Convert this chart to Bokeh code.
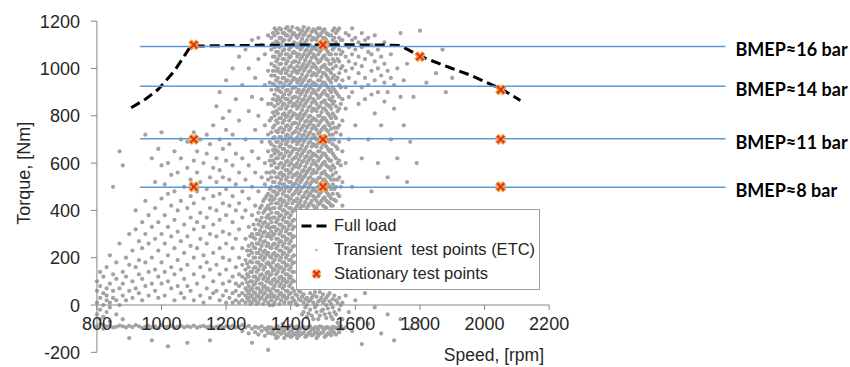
import math
from bokeh.plotting import figure
from bokeh.models import Range1d, Legend, LegendItem
from bokeh.core.properties import value
from bokeh.embed import file_html
from bokeh.resources import INLINE

# ---------------- data ----------------
speed_ticks = [800, 1000, 1200, 1400, 1600, 1800, 2000, 2200]
torque_ticks = [-200, 0, 200, 400, 600, 800, 1000, 1200]

fullload_speed = [906, 950, 990, 1040, 1085, 1110, 1200, 1300, 1400, 1500, 1600, 1700, 1740, 1800, 1900, 1960, 2000, 2050, 2111]
fullload_torque = [834, 870, 912, 990, 1083, 1095, 1097, 1098, 1099, 1100, 1100, 1099, 1097, 1052, 1000, 970, 945, 915, 865]

stationary_speed = [1100, 1500, 1800, 2050, 1100, 1500, 2050, 1100, 1500, 2050]
stationary_torque = [1100, 1100, 1050, 910, 700, 700, 700, 500, 500, 500]

bmep_torque = [1093, 925, 703, 498]
bmep_labels = ["BMEP\u224816 bar", "BMEP\u224814 bar", "BMEP\u224811 bar", "BMEP\u22488 bar"]

# transient test points (ETC): speed column -> torques
transient = {
    800: [-40, 10, 60, -90, 100],
    810: [-20, 30, 80, -80, -60, 140],
    820: [-50, 0, 50, -85, 120, -100],
    830: [-30, 20, 70, -90, 160, 40],
    840: [-70, 10, 90, -88, -10, 210],
    850: [30, -95, 130, 500, 60],
    860: [-40, 110, -92, 20, 180],
    870: [70, -87, 260, 650, 0],
    880: [-60, 140, -90, 590, 40, 90],
    890: [20, -95, 200, 120],
    900: [-88, 60, 170, 300, -140],
    910: [100, -93, 30, 230],
    920: [-85, 160, 70, 400, 320],
    930: [50, -90, 270, 190, 130],
    940: [-97, 110, 350, 20, 240],
    950: [80, -92, 180, 300, 440, 720],
    960: [-88, 140, 40, 260, 380],
    970: [200, -95, 90, 330, 620, -150],
    980: [-90, 60, 150, 280, 410, 520],
    990: [120, -98, 230, 350, 30, 660],
    1000: [-86, 180, 90, 300, 450, 590, 730],
    1010: [40, -94, 260, 140, 380, 510],
    1020: [-91, 210, 100, 330, 470, 600, -175],
    1030: [70, -89, 160, 290, 420, 550],
    1040: [-96, 130, 240, 360, 20, 480, 650],
    1050: [190, -92, 80, 310, 400, 560],
    1060: [-88, 50, 150, 270, 440, 620, 700],
    1070: [110, -95, 220, 340, 500, 30],
    1080: [-90, 170, 80, 290, 410, 580, 690, -160],
    1090: [60, -93, 250, 370, 460, 530],
    1100: [-87, 130, 200, 320, 430, 610, 730, 20],
    1110: [90, -96, 240, 350, 480, 560, 650],
    1120: [-91, 40, 160, 280, 390, 520, 700],
    1130: [120, -88, 210, 330, 450, 600, 10],
    1140: [-94, 70, 180, 260, 370, 490, 640, 720],
    1150: [150, -90, 30, 300, 410, 540, 680, -150],
    1160: [-97, 100, 220, 340, 460, 580, 760, 50],
    1170: [60, -92, 170, 290, 400, 520, 620, 840],
    1180: [-89, 130, 240, 20, 360, 470, 570, 700, 900],
    1190: [90, -95, 200, 310, 430, 540, 660, 790, 40],
    1200: [-90, 10, 60, 150, 260, 380, 490, 610, 740, 950],
    1210: [30, -93, 100, 190, 300, 420, 530, 680, 820],
    1220: [-88, 10, 50, 120, 240, 350, 460, 590, 720, 1000],
    1230: [20, 60, -96, 90, 160, 280, 400, 510, 640, 870],
    1240: [-91, 10, 40, 80, 130, 200, 320, 430, 560, 780, 1050],
    1250: [-85, -110, 20, 50, 90, 120, 170, 240, 370, 480, 620, 930],
    1260: [-95, 10, 40, 70, 110, 150, 190, 280, 400, 530, 700, 1080],
    1265: [30, 60, 95, 130, 175, 230],
    1270: [-88, -120, 20, 50, 80, 120, 160, 210, 250, 330, 450, 590, 820, 1000],
    1275: [5, 35, 65, 100, 140, 185, 230, 290],
    1280: [-100, 10, 40, 70, 100, 140, 180, 220, 260, 300, 380, 500, 650, 880, 1120, -160],
    1285: [25, 55, 85, 120, 155, 200, 245, 285, 340],
    1290: [-92, -115, 20, 50, 90, 120, 160, 200, 240, 280, 320, 420, 560, 740, 960],
    1295: [5, 35, 70, 105, 140, 180, 220, 260, 300, 360],
    1300: [-97, -125, 10, 40, 70, 110, 150, 180, 220, 260, 300, 340, 390, 480, 620, 800, 1040, 1130],
    1305: [25, 55, 90, 125, 165, 200, 235, 275, 315, 355, 410],
    1310: [-90, -110, 30, 60, 90, 130, 170, 210, 250, 290, 330, 370, 420, 540, 690, 870, 1100],
    1315: [5, 45, 75, 110, 150, 190, 225, 265, 305, 345, 390, 440],
    1320: [-100, -130, 20, 50, 80, 120, 160, 200, 230, 270, 310, 350, 400, 450, 510, 600, 760, 930, 1060],
    1325: [-105, 30, 65, 100, 135, 175, 215, 250, 290, 330, 370, 410, 460, 560],
    1330: [-93, -118, 10, 40, 70, 110, 140, 180, 220, 260, 300, 340, 380, 420, 470, 530, 650, 720, 850, 990, 1140, -190],
    1335: [-100, 0, 35, 60, 95, 125, 170, 205, 245, 290, 325, 365, 405, 445, 490, 560, 610, 690, 780, 940],
    1340: [-95, -120, 20, 50, 90, 130, 160, 200, 240, 280, 310, 350, 390, 430, 460, 500, 540, 590, 630, 680, 730, 790, 850, 910, 970, 1020, 1080, 1130],
    1345: [-110, 0, 35, 70, 105, 145, 180, 215, 255, 295, 330, 370, 410, 445, 480, 520, 565, 610, 655, 705, 750, 815, 870, 935, 990, 1050, 1105, 1150],
    1350: [-100, -125, 10, 40, 80, 110, 150, 190, 220, 260, 300, 330, 370, 410, 450, 480, 520, 560, 600, 640, 670, 710, 760, 800, 840, 890, 930, 970, 1010, 1050, 1090, 1140, 1170],
    1355: [-95, -140, 25, 60, 95, 130, 165, 205, 240, 280, 315, 350, 390, 430, 465, 500, 540, 580, 620, 655, 690, 735, 780, 820, 865, 910, 950, 990, 1030, 1070, 1115, 1160],
    1360: [-90, -115, -135, 30, 60, 100, 140, 170, 210, 250, 280, 320, 360, 390, 430, 470, 500, 540, 580, 620, 650, 690, 730, 770, 810, 850, 880, 920, 960, 1000, 1040, 1070, 1110, 1150],
    1365: [-105, 5, 45, 80, 115, 155, 190, 230, 265, 300, 340, 375, 410, 445, 485, 515, 555, 595, 635, 670, 710, 745, 790, 830, 870, 905, 940, 985, 1020, 1055, 1090, 1130, 1170],
    1370: [-98, -122, 20, 50, 90, 120, 160, 200, 230, 270, 310, 340, 380, 420, 450, 490, 530, 560, 600, 640, 680, 710, 750, 790, 830, 860, 900, 940, 980, 1020, 1060, 1100, 1130, 1165],
    1375: [-115, -80, 35, 70, 105, 140, 180, 215, 250, 290, 325, 360, 400, 435, 470, 510, 545, 580, 620, 660, 695, 730, 770, 805, 845, 880, 920, 960, 995, 1040, 1075, 1115, 1150],
    1380: [-92, -110, -140, 10, 40, 80, 110, 150, 180, 220, 260, 290, 330, 370, 400, 440, 480, 510, 550, 590, 630, 660, 700, 740, 780, 810, 850, 890, 930, 960, 1000, 1040, 1080, 1120, 1150],
    1385: [-100, -125, 25, 60, 95, 130, 165, 200, 240, 275, 310, 350, 385, 420, 460, 495, 530, 570, 605, 645, 680, 715, 755, 795, 830, 870, 905, 945, 980, 1020, 1060, 1100, 1140, 1170],
    1390: [-100, -128, 30, 60, 100, 130, 170, 210, 240, 280, 320, 350, 390, 430, 460, 500, 540, 570, 610, 650, 690, 720, 760, 800, 840, 870, 910, 950, 990, 1030, 1060, 1100, 1140, 1175],
    1395: [-90, -118, 10, 45, 80, 115, 150, 190, 225, 260, 300, 335, 370, 410, 445, 480, 520, 555, 590, 630, 670, 705, 740, 780, 815, 855, 890, 930, 970, 1005, 1045, 1080, 1120, 1160],
    1400: [-88, -112, -135, 10, 50, 90, 120, 160, 190, 230, 270, 300, 340, 380, 410, 450, 490, 520, 560, 600, 640, 670, 710, 750, 790, 820, 860, 900, 940, 970, 1010, 1050, 1090, 1130, 1160],
    1405: [-105, -130, 30, 70, 105, 140, 175, 205, 245, 285, 320, 355, 395, 430, 465, 505, 540, 575, 615, 650, 690, 725, 765, 800, 840, 875, 915, 950, 985, 1025, 1065, 1100, 1145, 1175],
    1410: [-96, -120, 20, 60, 100, 140, 180, 210, 250, 290, 330, 360, 400, 440, 470, 510, 550, 590, 620, 660, 700, 730, 770, 810, 850, 880, 920, 960, 1000, 1030, 1070, 1110, 1150],
    1415: [-95, -125, 10, 45, 410, 440, 480, 515, 550, 585, 625, 660, 695, 735, 770, 805, 845, 880, 920, 955, 990, 1030, 1065, 1105, 1140],
    1420: [-90, -115, -140, 0, 40, 420, 450, 490, 530, 560, 600, 640, 680, 710, 750, 790, 830, 860, 900, 940, 980, 1010, 1050, 1090, 1130, 1170],
    1425: [-108, -130, 25, 60, 430, 470, 505, 540, 580, 615, 655, 690, 725, 765, 800, 840, 875, 910, 950, 990, 1025, 1060, 1100, 1140, 1165],
    1430: [-100, -125, 20, 55, 410, 440, 480, 520, 550, 590, 630, 660, 700, 740, 780, 810, 850, 890, 930, 960, 1000, 1040, 1080, 1110, 1150],
    1435: [-95, -120, -40, 35, 420, 455, 495, 530, 565, 605, 640, 675, 715, 750, 790, 825, 865, 900, 940, 975, 1010, 1050, 1090, 1125, 1160],
    1440: [-92, -118, -30, 10, 45, 420, 460, 500, 540, 570, 610, 650, 690, 720, 760, 800, 840, 870, 910, 950, 990, 1020, 1060, 1100, 1140, 1175],
    1445: [-105, -135, -10, 25, 435, 475, 510, 550, 585, 625, 660, 700, 735, 775, 810, 850, 885, 925, 960, 1000, 1035, 1075, 1110, 1150],
    1450: [-97, -130, -50, 0, 30, 410, 450, 480, 520, 560, 600, 630, 670, 710, 750, 780, 820, 860, 900, 930, 970, 1010, 1050, 1080, 1120, 1160],
    1455: [-92, -120, -35, 15, 420, 460, 495, 535, 570, 610, 645, 685, 720, 760, 795, 835, 870, 910, 945, 985, 1020, 1060, 1095, 1135, 1170],
    1460: [-90, -112, -20, 20, 50, 430, 470, 510, 540, 580, 620, 650, 690, 730, 770, 800, 840, 880, 920, 950, 990, 1030, 1070, 1100, 1140],
    1465: [-100, -128, -45, 30, 440, 480, 520, 555, 595, 630, 670, 705, 745, 780, 820, 855, 895, 930, 970, 1005, 1045, 1080, 1120, 1155],
    1470: [-102, -125, -60, 10, 40, 420, 460, 490, 530, 570, 610, 640, 680, 720, 760, 790, 830, 870, 910, 940, 980, 1020, 1060, 1090, 1130, 1165],
    1475: [-95, -115, -10, 55, 410, 450, 485, 525, 560, 600, 635, 675, 710, 750, 785, 825, 860, 900, 935, 975, 1010, 1050, 1085, 1125, 1160],
    1480: [-95, -118, -140, -30, 0, 35, 410, 440, 480, 520, 560, 590, 630, 670, 700, 740, 780, 820, 850, 890, 930, 970, 1000, 1040, 1080, 1120, 1150],
    1485: [-105, -130, -60, 15, 425, 460, 500, 535, 575, 610, 650, 685, 725, 760, 800, 835, 875, 910, 950, 985, 1025, 1060, 1100, 1135, 1170],
    1490: [-90, -122, -45, 20, 55, 430, 470, 500, 540, 580, 620, 650, 690, 730, 770, 800, 840, 880, 920, 950, 990, 1030, 1070, 1100, 1140, 1170],
    1495: [-92, -118, -25, 30, 440, 480, 515, 555, 590, 630, 665, 705, 740, 780, 815, 855, 890, 930, 965, 1005, 1040, 1080, 1115, 1150],
    1500: [-98, -115, -20, 10, 45, 420, 450, 490, 530, 560, 600, 640, 680, 710, 750, 790, 830, 860, 900, 940, 980, 1010, 1050, 1090, 1130, 1160],
    1505: [-102, -135, -40, 20, 415, 455, 490, 530, 565, 605, 640, 680, 715, 755, 790, 830, 865, 905, 940, 980, 1015, 1055, 1090, 1130, 1165],
    1510: [-93, -128, -55, 0, 30, 410, 440, 480, 520, 550, 590, 630, 670, 700, 740, 780, 820, 850, 890, 930, 970, 1000, 1040, 1080, 1120, 1150],
    1515: [-95, -120, -15, 40, 435, 470, 510, 545, 585, 620, 660, 695, 735, 770, 810, 845, 885, 920, 960, 995, 1035, 1070, 1110, 1145],
    1520: [-100, -120, -35, 15, 50, 430, 460, 500, 540, 580, 610, 650, 690, 720, 760, 800, 840, 870, 910, 950, 990, 1020, 1060, 1100, 1140],
    1525: [-105, -128, -50, 5, 420, 450, 490, 530, 570, 610, 655, 700, 745, 790, 830, 865, 900, 940, 980, 1020, 1060, 1100, 1140],
    1530: [-92, -110, -60, -10, 25, 420, 470, 510, 550, 590, 640, 680, 720, 770, 810, 850, 880, 920, 960, 1000, 1040, 1080, 1120, 1160],
    1535: [-95, -118, -30, 40, 445, 490, 530, 580, 630, 700, 750, 800, 860, 910, 970, 1030, 1090, 1130, 1170],
    1540: [-97, -125, -40, 20, 440, 500, 560, 620, 670, 730, 790, 840, 900, 950, 1010, 1060, 1110, 1150],
    1545: [-100, -75, 10, 470, 530, 600, 660, 750, 820, 890, 960, 1040, 1100, 1160],
    1550: [-90, -115, -20, 30, 460, 540, 610, 690, 760, 830, 880, 930, 980, 1030, 1080, 1130, 1170],
    1555: [-90, 0, 500, 590, 720, 850, 920, 1000, 1060, 1120],
    1560: [-100, -60, 10, 420, 520, 650, 780, 870, 950, 1010, 1070, 1120],
    1570: [-95, 40, 600, 830, 920, 990, 1050, 1100, 1150],
    1580: [-30, 700, 880, 960, 1030, 1090, 1140],
    1590: [-110, 500, 900, 1000, 1060, 1120, 1170],
    1600: [20, 760, 940, 1020, 1080, 1130],
    1610: [-60, 850, 980, 1050, 1110],
    1620: [-165, 620, 920, 1010, 1090, 1150],
    1630: [50, 870, 960, 1040, 1120],
    1640: [-80, 700, 930, 1070, 1130],
    1650: [480, 890, 990, 1060, 1100],
    1660: [-10, 810, 950, 1030, 1140],
    1670: [600, 900, 1000, 1080],
    1680: [-120, 760, 970, 1050],
    1690: [860, 940, 1020, 1110],
    1700: [-40, 540, 900, 990],
    1710: [700, 960, 1060],
    1720: [-150, 830, 930],
    1730: [620, 1000],
    1740: [-60, 880, 1150],
    1750: [760, 950],
    1760: [520, 1020],
    1770: [-100, 690],
    1780: [880],
    1790: [600],
    1800: [-70, 1160],
    1820: [940],
    1850: [980],
    1870: [1080],
    1880: [900],
    1900: [960],
}

transient_speed = [s for s, ts in transient.items() for _ in ts]
transient_torque = [t for ts in transient.values() for t in ts]

# ---------------- figure ----------------
TEXT = "#262626"
AXIS = "#868686"
PX_X = 0.323    # px per rpm
PX_Y = 0.2365   # px per Nm

p = figure(width=850, height=367, output_backend="svg", toolbar_location=None,
           title=None, x_axis_type=None, y_axis_type=None,
           x_range=Range1d(501.5, 3133.0), y_range=Range1d(-264.2, 1287.5),
           min_border_left=0, min_border_right=0, min_border_top=0, min_border_bottom=0)
p.outline_line_color = None
p.grid.visible = False
p.background_fill_color = "white"
p.border_fill_color = "white"

x0, y0 = speed_ticks[0], 0

# transient points
r_tr = p.scatter(transient_speed, transient_torque, size=17, marker="dot",
                 line_color="#a3a3a3", fill_color="#a3a3a3")

# y axis (at speed = 800)
p.segment(x0=[x0], y0=[torque_ticks[0]], x1=[x0], y1=[torque_ticks[-1]], line_color=AXIS, line_width=1)
p.segment(x0=[x0] * len(torque_ticks), y0=torque_ticks, x1=[x0 - 6 / PX_X] * len(torque_ticks),
          y1=torque_ticks, line_color=AXIS, line_width=1)
p.text(x=[x0 - 17 / PX_X] * len(torque_ticks), y=torque_ticks, text=[str(t) for t in torque_ticks],
       text_font=value("Liberation Sans"), text_font_size="18px", text_color=TEXT,
       text_align="right", text_baseline="middle")

# x axis (at torque = 0)
p.segment(x0=[x0], y0=[y0], x1=[speed_ticks[-1]], y1=[y0], line_color=AXIS, line_width=1)
p.segment(x0=speed_ticks, y0=[y0] * len(speed_ticks), x1=speed_ticks,
          y1=[y0 - 5 / PX_Y] * len(speed_ticks), line_color=AXIS, line_width=1)
p.text(x=speed_ticks, y=[y0 - 18 / PX_Y] * len(speed_ticks), text=[str(s) for s in speed_ticks],
       text_font=value("Liberation Sans"), text_font_size="18px", text_color=TEXT,
       text_align="center", text_baseline="middle")

# axis titles
p.text(x=[x0 - 73 / PX_X], y=[torque_ticks[-1] - 152 / PX_Y], text=["Torque, [Nm]"], angle=math.pi / 2,
       text_font=value("Liberation Sans"), text_font_size="18px", text_color=TEXT,
       text_align="center", text_baseline="middle")
p.text(x=[x0 + 397 / PX_X], y=[y0 - 50 / PX_Y], text=["Speed, [rpm]"],
       text_font=value("Liberation Sans"), text_font_size="17.5px", text_color=TEXT,
       text_align="center", text_baseline="middle")

# full load
r_fl = p.line(fullload_speed, fullload_torque, line_color="black", line_width=3, line_dash="10 5")

# BMEP lines and labels
p.segment(x0=[933] * 4, y0=bmep_torque, x1=[2746] * 4, y1=bmep_torque,
          line_color="#5b9bd5", line_width=1.3)
p.text(x=[2777] * 4, y=[t - 12 for t in bmep_torque], text=bmep_labels,
       text_font=value("Lato"), text_font_style="bold", text_font_size="18px",
       text_color="black", text_align="left", text_baseline="middle")

# stationary points
r_st1 = p.scatter(stationary_speed, stationary_torque, marker="x", size=11,
                  line_color="#f5a03a", line_width=5)
r_st2 = p.scatter(stationary_speed, stationary_torque, marker="x", size=10,
                  line_color="#d9301e", line_width=1.8)

legend = Legend(items=[
    LegendItem(label="Full load", renderers=[r_fl]),
    LegendItem(label="Transient  test points (ETC)", renderers=[r_tr]),
    LegendItem(label="Stationary test points", renderers=[r_st1, r_st2]),
], location=(296, 77))
legend.label_text_font = "Liberation Sans"
legend.label_text_font_size = "16.5px"
legend.label_text_color = TEXT
legend.border_line_color = "#404040"
legend.border_line_width = 1
legend.background_fill_color = "white"
legend.background_fill_alpha = 1
legend.padding = 4
legend.margin = 0
legend.spacing = 1
legend.label_height = 23
legend.glyph_height = 23
legend.glyph_width = 30
legend.label_standoff = 3
p.add_layout(legend)

open("out.html", "w").write(file_html(p, INLINE))
